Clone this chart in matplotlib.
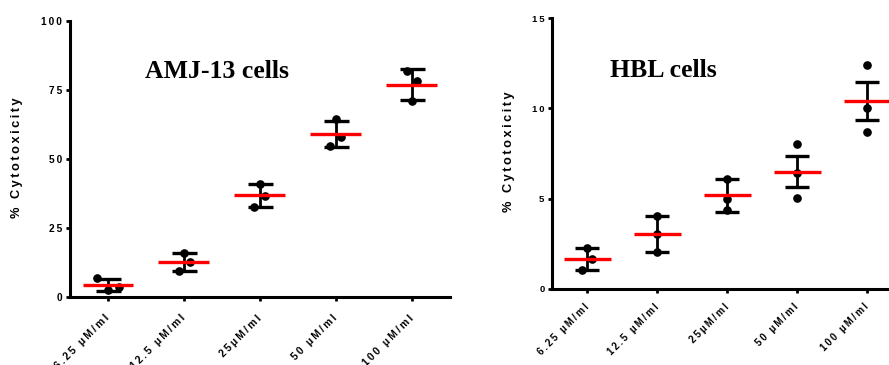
import numpy as np
import matplotlib
matplotlib.use("Agg")
import matplotlib.pyplot as plt

# doses on the x axis
doses = ["6.25 μM/ml", "12.5 μM/ml", "25μM/ml", "50 μM/ml", "100 μM/ml"]

# AMJ-13 cells: three replicates per dose, mean and error bar
amj_points = [[6.8, 2.5, 3.7],
              [15.8, 12.8, 9.6],
              [41.0, 36.7, 32.7],
              [64.4, 57.9, 54.8],
              [82.0, 78.3, 70.9]]
amj_mean = [4.3, 12.7, 36.8, 59.0, 77.0]
amj_err = [2.2, 3.1, 4.1, 4.8, 5.6]

# HBL cells
hbl_points = [[2.24, 1.63, 1.02],
              [4.03, 3.02, 2.02],
              [6.10, 5.00, 4.35],
              [8.03, 6.40, 5.02],
              [12.41, 10.01, 8.71]]
hbl_mean = [1.63, 3.02, 5.18, 6.5, 10.4]
hbl_err = [0.61, 1.0, 0.9, 0.86, 1.07]

# horizontal scatter of the dots inside each group
amj_jitter = [[-0.14, 0.0, 0.14], [0.0, 0.08, -0.07], [0.0, 0.07, -0.08],
              [0.0, 0.07, -0.08], [-0.07, 0.07, 0.0]]
hbl_jitter = [[0.0, 0.07, -0.07], [0, 0, 0], [0, 0, 0], [0, 0, 0], [0, 0, 0]]

plt.rcParams['font.family'] = ['Liberation Sans', 'DejaVu Sans']
plt.rcParams['font.weight'] = 'bold'

TS = "\u2009"


def spaced(s):
    # GraphPad style wide letter spacing
    return TS.join(s)


def panel(ax, points, jitter, means, errs, ymax, yticks, xmax, title, title_xy,
          fs, xfs, xpad, capsize, ylab_xy):
    x = np.arange(1, len(doses) + 1)
    for i, (vals, jit) in enumerate(zip(points, jitter)):
        ax.plot(x[i] + np.array(jit), vals, 'o', color='black', markersize=5.2,
                zorder=2, clip_on=False)
    ax.errorbar(x, means, yerr=errs, fmt='none', ecolor='black', elinewidth=2.0,
                capsize=capsize, capthick=2.4, zorder=3)
    ax.hlines(means, x - 0.335, x + 0.335, color='#ff0000', lw=2.4, zorder=4)

    ax.set_xlim(0.5, xmax)
    ax.set_ylim(0, ymax)
    ax.set_yticks(yticks)
    ax.set_yticklabels([spaced(str(t)) for t in yticks], fontsize=fs,
                       fontweight='bold')
    ax.set_xticks(x)
    ax.set_xticklabels([spaced(d) for d in doses], rotation=45, ha='right',
                       va='center', rotation_mode='anchor', fontsize=xfs,
                       fontweight='bold')
    for s in ['top', 'right']:
        ax.spines[s].set_visible(False)
    for s in ['left', 'bottom']:
        ax.spines[s].set_linewidth(2.2)
    ax.tick_params(axis='both', length=3, width=2, pad=2.5)
    ax.tick_params(axis='x', pad=xpad)
    ax.set_ylabel(spaced("% Cytotoxicity"), fontsize=9.2, fontweight='bold')
    ax.yaxis.set_label_coords(*ylab_xy)
    ax.text(title_xy[0], title_xy[1], title, family='Liberation Serif',
            fontsize=18.5, fontweight='bold', ha='center', va='center')


fig = plt.figure(figsize=(8.89, 3.65), dpi=100)
ax1 = fig.add_axes([0.0787, 0.1863, 0.4274, 0.756])
ax2 = fig.add_axes([0.621, 0.209, 0.379, 0.741])

panel(ax1, amj_points, amj_jitter, amj_mean, amj_err, 100, [0, 25, 50, 75, 100],
      5.5, "AMJ-13 cells", (2.44, 81.9), 7.3, 7.5, 11, 9, (-0.124, 0.505))
panel(ax2, hbl_points, hbl_jitter, hbl_mean, hbl_err, 15, [0, 5, 10, 15],
      5.31, "HBL cells", (2.09, 12.1), 6.8, 7.0, 9, 8.6, (-0.11, 0.507))

fig.savefig("out.png", dpi=100)
